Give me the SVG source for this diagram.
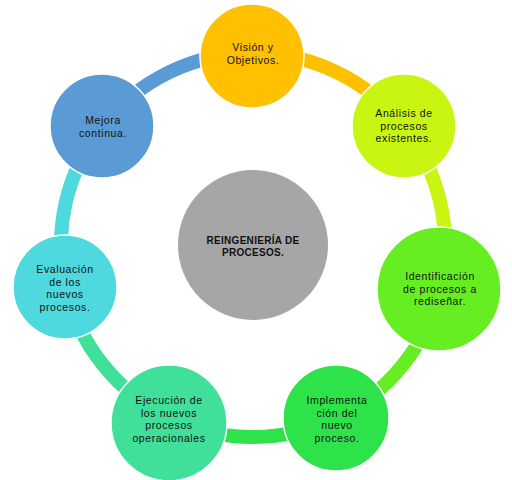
<svg xmlns="http://www.w3.org/2000/svg" width="512" height="480" viewBox="0 0 512 480">
<style>
.arc{fill:none;stroke-width:14}
.node{stroke:#fff;stroke-width:1.5}
.t{font-family:"Liberation Sans","DejaVu Sans",sans-serif;font-size:10.5px;letter-spacing:0.6px;fill:#111;text-anchor:middle}
.c{font-family:"Liberation Sans","DejaVu Sans",sans-serif;font-size:10px;letter-spacing:0.3px;font-weight:bold;fill:#111;text-anchor:middle}
</style>
<rect width="512" height="480" fill="#fff"/>
<g id="connectors">
<path class="arc" stroke="#5B9BD5" d="M102.89,125.29 A192,192 0 0 1 253,53"/>
<path class="arc" stroke="#FFC000" d="M253,53 A192,192 0 0 1 403.11,125.29"/>
<path class="arc" stroke="#C8F511" d="M403.11,125.29 A192,192 0 0 1 440.19,287.72"/>
<path class="arc" stroke="#66EE22" d="M440.19,287.72 A192,192 0 0 1 336.31,417.99"/>
<path class="arc" stroke="#2EE24A" d="M336.31,417.99 A192,192 0 0 1 169.69,417.99"/>
<path class="arc" stroke="#40E09A" d="M169.69,417.99 A192,192 0 0 1 65.81,287.72"/>
<path class="arc" stroke="#4DD9DE" d="M65.81,287.72 A192,192 0 0 1 102.89,125.29"/>
</g>
<g id="center">
<circle cx="253" cy="245" r="75" fill="#A6A6A6"/>
<text class="c" x="253" y="244">REINGENIERÍA DE</text>
<text class="c" x="253" y="256">PROCESOS.</text>
</g>
<g id="vision">
<circle class="node" cx="252" cy="56" r="52" fill="#FFC000"/>
<text class="t" x="253" y="51">Visión y</text>
<text class="t" x="253" y="63.5">Objetivos.</text>
</g>
<g id="analisis">
<circle class="node" cx="404" cy="126" r="52" fill="#C8F511"/>
<text class="t" x="404" y="117">Análisis de</text>
<text class="t" x="404" y="129.5">procesos</text>
<text class="t" x="404" y="142">existentes.</text>
</g>
<g id="identificacion">
<circle class="node" cx="439" cy="289" r="62" fill="#66EE22"/>
<text class="t" x="440" y="280">Identificación</text>
<text class="t" x="440" y="292.5">de procesos a</text>
<text class="t" x="440" y="305">rediseñar.</text>
</g>
<g id="implementacion">
<circle class="node" cx="336" cy="418" r="53" fill="#2EE24A"/>
<text class="t" x="337" y="404">Implementa</text>
<text class="t" x="337" y="416.5">ción del</text>
<text class="t" x="337" y="429">nuevo</text>
<text class="t" x="337" y="441.5">proceso.</text>
</g>
<g id="ejecucion">
<circle class="node" cx="169" cy="423" r="58" fill="#40E09A"/>
<text class="t" x="169" y="404">Ejecución de</text>
<text class="t" x="169" y="416.5">los nuevos</text>
<text class="t" x="169" y="429">procesos</text>
<text class="t" x="169" y="441.5">operacionales</text>
</g>
<g id="evaluacion">
<circle class="node" cx="65" cy="287" r="52" fill="#4DD9DE"/>
<text class="t" x="65" y="273">Evaluación</text>
<text class="t" x="65" y="285.5">de los</text>
<text class="t" x="65" y="298">nuevos</text>
<text class="t" x="65" y="310.5">procesos.</text>
</g>
<g id="mejora">
<circle class="node" cx="102" cy="126" r="52" fill="#5B9BD5"/>
<text class="t" x="103" y="124">Mejora</text>
<text class="t" x="103" y="136.5">continua.</text>
</g>
</svg>
